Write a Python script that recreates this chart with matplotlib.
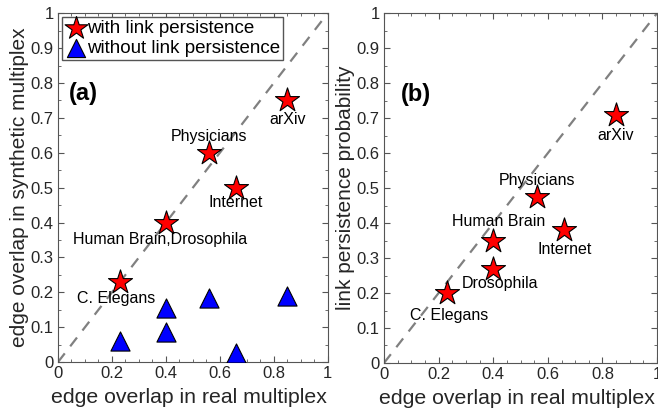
import numpy as np
import matplotlib.pyplot as plt
from matplotlib.ticker import MultipleLocator

plt.rcParams['font.family'] = ['Liberation Sans', 'DejaVu Sans']

# panel (a): edge overlap, real vs synthetic
real_a = [0.23, 0.40, 0.56, 0.66, 0.85]
with_lp = [0.23, 0.40, 0.60, 0.50, 0.75]
labels_a = ["C. Elegans", "Human Brain,Drosophila", "Physicians", "Internet", "arXiv"]
real_tri = [0.23, 0.40, 0.40, 0.56, 0.66, 0.85]
without_lp = [0.06, 0.155, 0.085, 0.185, 0.025, 0.19]

# panel (b): link persistence probability
real_b = [0.23, 0.40, 0.40, 0.56, 0.66, 0.85]
persist_b = [0.20, 0.27, 0.35, 0.475, 0.38, 0.71]
labels_b = ["C. Elegans", "Drosophila", "Human Brain", "Physicians", "Internet", "arXiv"]

xticks = [0, 0.2, 0.4, 0.6, 0.8, 1]
xticklabels = ['0', '0.2', '0.4', '0.6', '0.8', '1']
yticks = [0, 0.1, 0.2, 0.3, 0.4, 0.5, 0.6, 0.7, 0.8, 0.9, 1]
yticklabels = ['0', '0.1', '0.2', '0.3', '0.4', '0.5', '0.6', '0.7', '0.8', '0.9', '1']

# label offsets in points
offs_a = [(-3, -12), (-4, -12.5), (0, 12), (0, -11), (0, -14)]
offs_b = [(2, -16), (5, -11), (4, 14), (0, 12), (0, -14), (0, -15)]

fig = plt.figure(figsize=(6.58, 4.12), dpi=100)
ax1 = fig.add_axes([0.0881, 0.121, 0.410, 0.847])
ax2 = fig.add_axes([0.5836, 0.119, 0.415, 0.849])

star = dict(marker='*', s=330, color='red', edgecolor='black', linewidths=0.8, zorder=3)
tri = dict(marker='^', s=190, color='blue', edgecolor='black', linewidths=0.8, zorder=3)

for ax in (ax1, ax2):
    ax.plot([0, 1], [0, 1], '--', color='#808080', lw=1.6, dashes=(5, 4), zorder=1)
    ax.set_xlim(0, 1)
    ax.set_ylim(0, 1)
    ax.set_xticks(xticks, xticklabels)
    ax.set_yticks(yticks, yticklabels)
    ax.xaxis.set_minor_locator(MultipleLocator(0.05))
    ax.yaxis.set_minor_locator(MultipleLocator(0.05))
    ax.tick_params(which='both', direction='in', top=True, right=True, colors='#555555',
                   labelcolor='#262626', labelsize=12, pad=3)
    ax.tick_params(which='major', length=4)
    ax.tick_params(which='minor', length=2)
    for sp in ax.spines.values():
        sp.set_color('#555555')
    ax.set_xlabel('edge overlap in real multiplex', fontsize=15.3, color='#262626')
    ax.xaxis.set_label_coords(0.487, -0.075)

ax1.scatter(real_a, with_lp, label='with link persistence', **star)
ax1.scatter(real_tri, without_lp, label='without link persistence', **tri)
for x, y, t, o in zip(real_a, with_lp, labels_a, offs_a):
    ax1.annotate(t, (x, y), xytext=o, textcoords='offset points', ha='center', va='center', fontsize=11.5)
ax1.set_ylabel('edge overlap in synthetic multiplex', fontsize=15, color='#262626', labelpad=1)
ax1.text(0.04, 0.75, '(a)', fontsize=17, fontweight='bold')
leg = ax1.legend(loc='upper left', fontsize=13.5, handletextpad=0.0, borderpad=0.15,
                 labelspacing=0.15, borderaxespad=0.2, fancybox=False, markerscale=0.95,
                 handlelength=1.2)
leg.get_frame().set_edgecolor('#555555')
leg.get_frame().set_linewidth(1.0)
leg.get_frame().set_alpha(1)

ax2.scatter(real_b, persist_b, **star)
for x, y, t, o in zip(real_b, persist_b, labels_b, offs_b):
    ax2.annotate(t, (x, y), xytext=o, textcoords='offset points', ha='center', va='center', fontsize=11.5)
ax2.set_ylabel('link persistence probability', fontsize=15, color='#262626', labelpad=1)
ax2.text(0.06, 0.75, '(b)', fontsize=17, fontweight='bold')

fig.savefig('out.png', dpi=100)
